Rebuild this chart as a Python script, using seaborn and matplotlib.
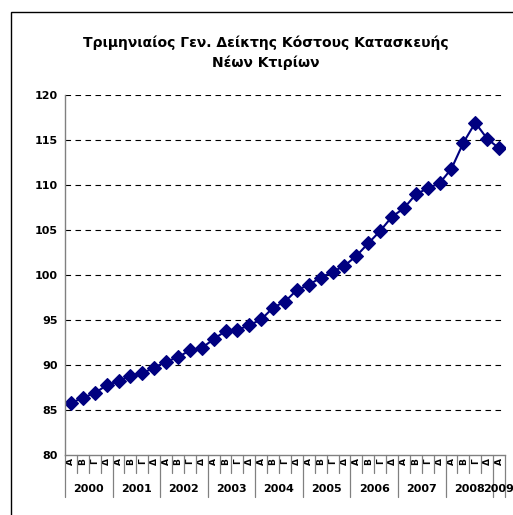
import numpy as np
import pandas as pd
import matplotlib
matplotlib.use('Agg')
import matplotlib.pyplot as plt
import matplotlib.transforms as mtransforms
from matplotlib.patches import Rectangle
import seaborn as sns

# data
years = ['2000', '2001', '2002', '2003', '2004', '2005', '2006', '2007', '2008', '2009']
quarters = ['Α', 'Β', 'Γ', 'Δ']
index_values = [
    85.75, 86.37, 86.86, 87.75,   # 2000
    88.19, 88.81, 89.08, 89.70,   # 2001
    90.37, 90.85, 91.63, 91.89,   # 2002
    92.85, 93.77, 93.88, 94.41,   # 2003
    95.05, 96.36, 97.03, 98.32,   # 2004
    98.88, 99.70, 100.33, 101.01, # 2005
    102.10, 103.50, 104.87, 106.46,  # 2006
    107.39, 108.94, 109.61, 110.17,  # 2007
    111.79, 114.67, 116.89, 115.12,  # 2008
    114.05,                          # 2009
]
title = 'Τριμηνιαίος Γεν. Δείκτης Κόστους Κατασκευής\nΝέων Κτιρίων'

n = len(index_values)
df = pd.DataFrame({
    'pos': np.arange(n),
    'value': index_values,
    'quarter': [quarters[i % 4] for i in range(n)],
    'year': [years[i // 4] for i in range(n)],
})

sns.set_style('white')
plt.rcParams['font.family'] = ['DejaVu Sans']
plt.rcParams['text.color'] = 'black'

fig = plt.figure(figsize=(5.13, 5.15), dpi=100)
ax = fig.add_axes([65 / 513, 1 - 455 / 515, 440 / 513, 360.3 / 515])

navy = '#000080'
sns.lineplot(data=df, x='pos', y='value', ax=ax, color=navy, linewidth=1.5,
             marker='D', markersize=7, markeredgecolor=navy, markeredgewidth=0.8)

ax.set_xlim(-0.5, n - 0.5)
ax.set_ylim(80, 120)
ax.set_yticks(np.arange(80, 121, 5))
ax.tick_params(axis='y', labelsize=8, length=3, width=0.8, color='#808080',
               labelcolor='black', pad=2)
for lbl in ax.get_yticklabels():
    lbl.set_fontweight('bold')

# dashed gridlines
for v in range(85, 121, 5):
    ax.axhline(v, color='black', linewidth=0.8, linestyle=(0, (5, 4)), zorder=0)

# category axis: quarters and years
ax.set_xticks(df['pos'])
ax.set_xticklabels(df['quarter'], rotation=90, fontsize=6.5, fontweight='bold')
ax.tick_params(axis='x', length=0, pad=2, labelcolor='black')
ax.set_xlabel('')
ax.set_ylabel('')

for s in ['top', 'right']:
    ax.spines[s].set_visible(False)
for s in ['left', 'bottom']:
    ax.spines[s].set_color('#808080')
    ax.spines[s].set_linewidth(1)

trans = mtransforms.blended_transform_factory(ax.transData, ax.transAxes)
for b in np.arange(-0.5, n, 1.0):
    if (b + 0.5) % 4 == 0 or b == n - 0.5:
        ax.plot([b, b], [0, -0.117], transform=trans, color='#808080', lw=0.9, clip_on=False)
    else:
        ax.plot([b, b], [0, -0.05], transform=trans, color='#808080', lw=0.9, clip_on=False)

for y in years:
    xs = df.loc[df['year'] == y, 'pos']
    ax.text(xs.mean(), -0.094, y, transform=trans, ha='center', va='center',
            fontsize=8, fontweight='bold', color='black')

fig.text(266 / 513, 1 - 53 / 515, title, ha='center', va='center',
         fontsize=10, fontweight='bold', linespacing=1.45, color='black')

# chart border
fig.patches.append(Rectangle((11 / 513, -0.05), 1.1, 1 - 12 / 515 + 0.05,
                             transform=fig.transFigure, fill=False,
                             edgecolor='black', linewidth=1))

fig.savefig('out.png', dpi=100)
